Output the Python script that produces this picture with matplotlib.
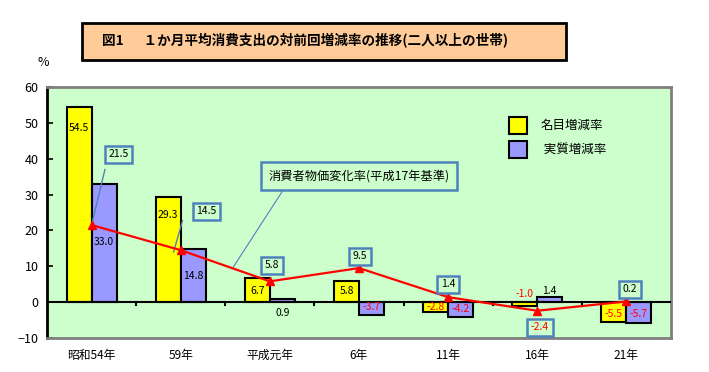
import numpy as np
import matplotlib
matplotlib.use("Agg")
import matplotlib.pyplot as plt
from matplotlib.patches import Rectangle

plt.rcParams['font.family'] = ['Noto Sans CJK JP', 'DejaVu Sans']

# data
years = ["昭和54年", "59年", "平成元年", "6年", "11年", "16年", "21年"]
nominal = [54.5, 29.3, 6.7, 5.8, -2.8, -1.0, -5.5]   # 名目増減率
real = [33.0, 14.8, 0.9, -3.7, -4.2, 1.4, -5.7]      # 実質増減率
cpi = [21.5, 14.5, 5.8, 9.5, 1.4, -2.4, 0.2]         # 消費者物価変化率

# label placement (layout only)
nom_label_y = [48.5, 24.2, 3.0, 3.0, -1.4, 2.2, -3.4]
real_label_y = [16.7, 7.2, -3.1, -1.4, -2.0, 3.0, -3.4]
cpi_box_xy = [(0.30, 41.2), (1.29, 25.3), (2.02, 10.3), (3.01, 12.8),
              (4.0, 5.0), (5.03, -7.0), (6.04, 3.6)]

yellow = "#FFFF00"
purple = "#9999FF"
green_bg = "#CCFFCC"
box_edge = "#4F81BD"

fig = plt.figure(figsize=(7.09, 3.72), dpi=100)
ax = fig.add_axes([47/709, 34/372, 624/709, 251/372])
ax.set_facecolor(green_bg)

x = np.arange(len(years))
w = 0.28
ax.bar(x - w/2, nominal, w, color=yellow, edgecolor="black", linewidth=1.5, zorder=3)
ax.bar(x + w/2, real, w, color=purple, edgecolor="black", linewidth=1.5, zorder=3)

ax.axhline(0, color="black", lw=1.5, zorder=4)
for b in np.arange(0.5, len(years) - 0.5):
    ax.plot([b, b], [0, -0.8], color="black", lw=1.5, zorder=4)

ax.plot(x, cpi, color="red", lw=1.6, marker="^", ms=6, mfc="red", mec="red", zorder=6)

# bar value labels
for i in range(len(years)):
    c = "black" if nominal[i] > 0 else "red"
    ax.text(x[i] - w/2, nom_label_y[i], f"{nominal[i]:.1f}", ha="center", va="center",
            fontsize=7.5, color=c, zorder=7)
    c = "black" if real[i] > 0 or i == 2 else "red"
    ax.text(x[i] + w/2, real_label_y[i], f"{real[i]:.1f}", ha="center", va="center",
            fontsize=7.5, color=c, zorder=7)

# cpi value boxes
for i, (bx, by) in enumerate(cpi_box_xy):
    c = "black" if cpi[i] > 0 else "red"
    ax.text(bx, by, f"{cpi[i]:.1f}", ha="center", va="center", fontsize=7.5, color=c, zorder=8,
            bbox=dict(boxstyle="square,pad=0.35", fc=green_bg, ec=box_edge, lw=1.8))
# leader lines for the first two boxes
ax.plot([0.15, 0.0], [37.0, 21.5], color=box_edge, lw=1, zorder=5)
ax.plot([1.02, 0.92], [22.7, 14.0], color=box_edge, lw=1, zorder=5)

# series callout
ax.text(1.98, 35.2, "消費者物価変化率(平成17年基準)", ha="left", va="center", fontsize=8.8,
        zorder=8, bbox=dict(boxstyle="square,pad=0.6", fc=green_bg, ec=box_edge, lw=1.8))
ax.plot([2.15, 1.58], [31.3, 9.4], color=box_edge, lw=0.8, zorder=5)

# legend
lx = 4.68
for (yy, col, lab) in [(49.2, yellow, "名目増減率"), (42.6, purple, " 実質増減率")]:
    ax.add_patch(Rectangle((lx, yy - 2.3), 0.21, 4.6, fc=col, ec="black", lw=1.5, zorder=8))
    ax.text(lx + 0.36, yy, lab, ha="left", va="center", fontsize=9, zorder=8)

ax.set_xlim(-0.5, len(years) - 0.5)
ax.set_ylim(-10, 60)
ax.set_yticks(range(-10, 61, 10))
ax.set_xticks(x)
ax.set_xticklabels(years, fontsize=8.5)
ax.tick_params(axis="x", length=0, pad=8)
ax.tick_params(axis="y", direction="in", length=4, width=1.2, labelsize=9, pad=6)

for s in ["top", "right", "bottom"]:
    ax.spines[s].set_color("#808080")
    ax.spines[s].set_linewidth(2)
ax.spines["left"].set_color("black")
ax.spines["left"].set_linewidth(2)

fig.text(43/709, 1 - 63/372, "%", ha="center", va="center", fontsize=9)

# title box
fig.patches.append(Rectangle((82/709, 1 - 60/372), 484/709, 37/372, transform=fig.transFigure,
                             fc="#FFCC99", ec="black", lw=2, zorder=1))
fig.text(102/709, 1 - 41/372, "図1　  １か月平均消費支出の対前回増減率の推移(二人以上の世帯)",
         ha="left", va="center", fontsize=9.8, fontweight="bold", zorder=2)

fig.savefig("out.png", dpi=100)
